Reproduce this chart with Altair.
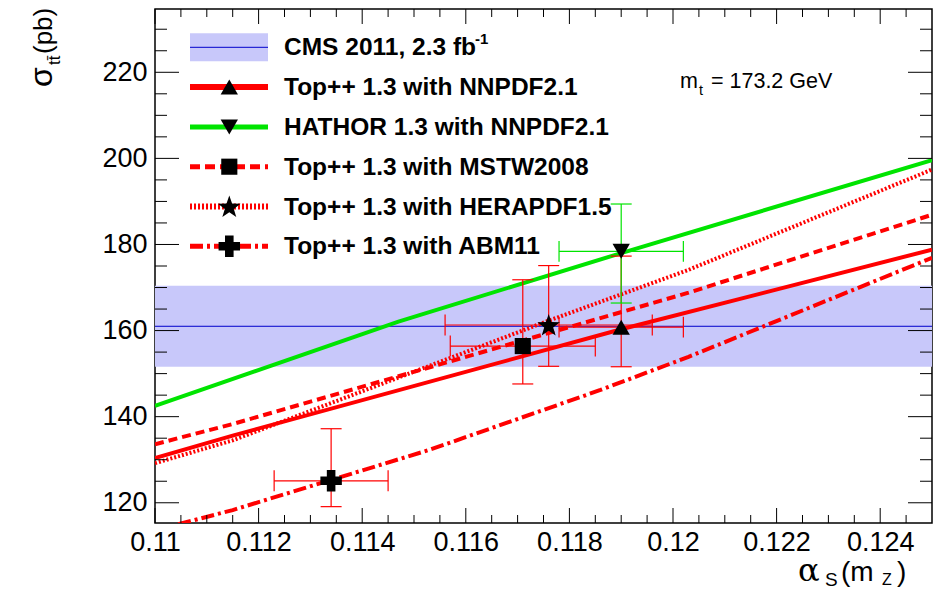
import math
import altair as alt
import pandas as pd

# ---------------- data ----------------
X_DOMAIN = [0.110, 0.125]
Y_DOMAIN = [115.3, 234.7]

x_major_ticks = [0.110, 0.112, 0.114, 0.116, 0.118, 0.120, 0.122, 0.124]
x_minor_ticks = [0.1105, 0.1110, 0.1115, 0.1125, 0.1130, 0.1135, 0.1145, 0.1150,
                 0.1155, 0.1165, 0.1170, 0.1175, 0.1185, 0.1190, 0.1195, 0.1205,
                 0.1210, 0.1215, 0.1225, 0.1230, 0.1235, 0.1245]
y_major_ticks = [120, 140, 160, 180, 200, 220]
y_minor_ticks = [125, 130, 135, 145, 150, 155, 165, 170, 175, 185, 190, 195,
                 205, 210, 215, 225, 230]

# CMS 2011 measurement band
cms_sigma = 161.0
cms_low = 151.6
cms_high = 170.4

# theory curves sigma(alpha_s)
nnpdf_alpha = [0.110, 0.1115, 0.1190, 0.125]
nnpdf_sigma = [130.4, 135.6, 160.3, 178.8]
hathor_alpha = [0.110, 0.1147, 0.1190, 0.125]
hathor_sigma = [142.5, 162.1, 178.0, 199.6]
mstw_alpha = [0.110, 0.1115, 0.1203, 0.125]
mstw_sigma = [133.6, 138.3, 168.8, 186.9]
hera_alpha = [0.110, 0.1115, 0.1176, 0.1203, 0.125]
hera_sigma = [129.2, 134.5, 162.3, 174.1, 197.4]
abm_alpha = [0.110, 0.1115, 0.1153, 0.1186, 0.1203, 0.125]
abm_sigma = [113.6, 118.3, 132.3, 146.2, 153.9, 176.9]

# points with errors
pt_names = ["NNPDF2.1", "HATHOR", "MSTW2008", "HERAPDF1.5", "ABM11"]
pt_alpha = [0.1190, 0.1190, 0.1171, 0.1176, 0.1134]
pt_alpha_err = [0.0012, 0.0012, 0.0014, 0.0020, 0.0011]
pt_sigma = [160.8, 178.4, 156.4, 161.3, 125.1]
pt_sigma_low = [151.6, 166.4, 147.6, 151.7, 119.1]
pt_sigma_high = [177.3, 189.4, 171.8, 175.1, 137.2]

legend_labels = ["CMS 2011, 2.3 fb", "Top++ 1.3 with NNPDF2.1", "HATHOR 1.3 with NNPDF2.1",
                 "Top++ 1.3 with MSTW2008", "Top++ 1.3 with HERAPDF1.5", "Top++ 1.3 with ABM11"]

# ---------------- styling ----------------
W, H = 777, 514
RED = "#ff0000"
GREEN = "#00e400"
BAND = "#c8c8fa"
BLUE = "#0000cc"
FONT = "Liberation Sans"

def star_path():
    pts = []
    for i in range(10):
        r = 1.0 if i % 2 == 0 else 0.40
        a = -math.pi / 2 + i * math.pi / 5
        pts.append((r * math.cos(a), r * math.sin(a) + 0.08))
    return "M" + " L".join(f"{x:.3f},{y:.3f}" for x, y in pts) + " Z"

STAR = star_path()

xs = alt.Scale(domain=X_DOMAIN, nice=False, zero=False)
ys = alt.Scale(domain=Y_DOMAIN, nice=False, zero=False)

one = pd.DataFrame({"d": [0]})

# band + CMS line
band = alt.Chart(pd.DataFrame({"lo": [cms_low], "hi": [cms_high]})).mark_rect(color=BAND).encode(
    x=alt.value(0), x2=alt.value(W),
    y=alt.Y("lo:Q", scale=ys, axis=alt.Axis(values=y_major_ticks, format="d", ticks=True, tickSize=0,
            domain=False, grid=False, labelFont=FONT, labelFontSize=27, labelColor="black",
            labelPadding=8, title=None)),
    y2="hi:Q")
cms_line = alt.Chart(pd.DataFrame({"s": [cms_sigma]})).mark_rule(color=BLUE, strokeWidth=1).encode(
    y=alt.Y("s:Q", scale=ys), x=alt.value(0), x2=alt.value(W))

def curve(a, s, color, dash=None, width=4):
    df = pd.DataFrame({"a": a, "s": s})
    kw = dict(color=color, strokeWidth=width, clip=True)
    if dash:
        kw["strokeDash"] = dash
    return alt.Chart(df).mark_line(**kw).encode(
        x=alt.X("a:Q", scale=xs, axis=alt.Axis(values=x_major_ticks, format=".3~f", ticks=True, tickSize=0,
                domain=False, grid=False, labelFont=FONT, labelFontSize=27, labelColor="black",
                labelPadding=6, labelFlush=False, labelOverlap=False, title=None)),
        y=alt.Y("s:Q", scale=ys))

c_nnpdf = curve(nnpdf_alpha, nnpdf_sigma, RED)
c_hathor = curve(hathor_alpha, hathor_sigma, GREEN)
c_mstw = curve(mstw_alpha, mstw_sigma, RED, [9, 5])
c_hera = curve(hera_alpha, hera_sigma, RED, [2, 2], 4)
c_abm = curve(abm_alpha, abm_sigma, RED, [13, 4, 3, 4])

pts = pd.DataFrame({"name": pt_names, "a": pt_alpha, "s": pt_sigma,
                    "alo": [a - e for a, e in zip(pt_alpha, pt_alpha_err)],
                    "ahi": [a + e for a, e in zip(pt_alpha, pt_alpha_err)],
                    "slo": pt_sigma_low, "shi": pt_sigma_high})
pts["col"] = ["r", "g", "r", "r", "r"]
col_scale = alt.Scale(domain=["r", "g"], range=[RED, GREEN])

vbar = alt.Chart(pts).mark_rule(strokeWidth=1.2).encode(
    x=alt.X("a:Q", scale=xs), y=alt.Y("slo:Q", scale=ys), y2="shi:Q",
    color=alt.Color("col:N", scale=col_scale, legend=None))
hbar = alt.Chart(pts).mark_rule(strokeWidth=1.2).encode(
    y=alt.Y("s:Q", scale=ys), x=alt.X("alo:Q", scale=xs), x2="ahi:Q",
    color=alt.Color("col:N", scale=col_scale, legend=None))

def caps(xf, yf, angle):
    return alt.Chart(pts).mark_point(shape="stroke", size=440, strokeWidth=1.2, filled=False,
                                     angle=angle, opacity=1).encode(
        x=alt.X(f"{xf}:Q", scale=xs), y=alt.Y(f"{yf}:Q", scale=ys),
        stroke=alt.Color("col:N", scale=col_scale, legend=None))

cap_layers = [caps("a", "slo", 0), caps("a", "shi", 0), caps("alo", "s", 90), caps("ahi", "s", 90)]

marker_shapes = ["triangle-up", "triangle-down", "square", STAR, "cross"]
marker_sizes = [300, 300, 260, 560, 460]

def marker(i):
    d = pts.iloc[[i]]
    m = alt.Chart(d).mark_point(shape=marker_shapes[i], size=marker_sizes[i], filled=True,
                                color="black", opacity=1)
    return m.encode(x=alt.X("a:Q", scale=xs), y=alt.Y("s:Q", scale=ys))

markers = [marker(i) for i in range(5)]

# ---------- ticks (inward, ROOT style) ----------
def yticks(vals, L):
    df = pd.DataFrame({"v": vals})
    left = alt.Chart(df).mark_rule(color="black", strokeWidth=1).encode(
        y=alt.Y("v:Q", scale=ys), x=alt.value(0), x2=alt.value(L))
    right = alt.Chart(df).mark_rule(color="black", strokeWidth=1).encode(
        y=alt.Y("v:Q", scale=ys), x=alt.value(W - L), x2=alt.value(W))
    return [left, right]

def xticks(vals, L):
    df = pd.DataFrame({"v": vals})
    bot = alt.Chart(df).mark_rule(color="black", strokeWidth=1).encode(
        x=alt.X("v:Q", scale=xs), y=alt.value(H - L), y2=alt.value(H))
    top = alt.Chart(df).mark_rule(color="black", strokeWidth=1).encode(
        x=alt.X("v:Q", scale=xs), y=alt.value(0), y2=alt.value(L))
    return [bot, top]

tick_layers = yticks(y_major_ticks, 24) + yticks(y_minor_ticks, 12) + \
    xticks(x_major_ticks, 15) + xticks(x_minor_ticks, 8)

# ---------- legend ----------
ROW_Y = [38.3 + 39.8 * i for i in range(6)]
SX0, SX1, SXC = 35, 113, 74.3
TX = 129

def txt(text, x, y, size, bold=False, font=FONT, angle=0, align="left", baseline="alphabetic"):
    kw = dict(text=text, font=font, fontSize=size, color="black", align=align, baseline=baseline)
    if bold:
        kw["fontWeight"] = "bold"
    if angle:
        kw["angle"] = angle
    return alt.Chart(one).mark_text(**kw).encode(x=alt.value(x), y=alt.value(y))

leg = []
leg.append(alt.Chart(one).mark_rect(color=BAND).encode(
    x=alt.value(SX0), x2=alt.value(SX1), y=alt.value(ROW_Y[0] - 14), y2=alt.value(ROW_Y[0] + 14)))
leg.append(alt.Chart(one).mark_rule(color=BLUE, strokeWidth=1).encode(
    x=alt.value(SX0), x2=alt.value(SX1), y=alt.value(ROW_Y[0])))
leg_styles = [(RED, None, 6), (GREEN, None, 5), (RED, [10, 5], 5), (RED, [2, 2], 6), (RED, [13, 4, 3, 4], 5)]
for i, (col, dash, wdt) in enumerate(leg_styles):
    kw = dict(color=col, strokeWidth=wdt)
    if dash:
        kw["strokeDash"] = dash
    leg.append(alt.Chart(one).mark_rule(**kw).encode(
        x=alt.value(SX0), x2=alt.value(SX1), y=alt.value(ROW_Y[i + 1])))
    leg.append(alt.Chart(one).mark_point(shape=marker_shapes[i], size=marker_sizes[i], filled=True,
                                         color="black", opacity=1).encode(
        x=alt.value(SXC), y=alt.value(ROW_Y[i + 1])))
for i, lab in enumerate(legend_labels):
    leg.append(txt(lab, TX, ROW_Y[i] + 8, 24.5, bold=True))
leg.append(txt("-1", 320, ROW_Y[0] - 3, 15, bold=True))

# m_t annotation
ann = [txt("m", 525, 79, 21.5), txt("t", 544, 86, 14.5), txt("= 173.2 GeV", 556, 79, 21.5)]

# axis titles
titles = [
    txt("α", 643, 572, 32, font="DejaVu Serif"),
    txt("S", 670, 577, 19),
    txt("(m", 686, 572, 28),
    txt("Z", 727, 576, 16),
    txt(")", 742, 572, 28),
    txt("σ", -103, 78, 32, angle=270),
    txt("tt\u0304", -95, 56, 17, angle=270),
    txt("(pb)", -103, 45, 26, angle=270),
]

chart = alt.layer(band, cms_line, c_abm, c_hera, c_mstw, c_nnpdf, c_hathor,
                  vbar, hbar, *cap_layers, *markers, *tick_layers, *leg, *ann, *titles).properties(
    width=W, height=H,
    autosize=alt.AutoSizeParams(type="none"),
    padding={"left": 147, "top": 1, "right": 3, "bottom": 66},
    background="white",
).configure_view(stroke="black", strokeWidth=1.5)

chart.save("out.html", embed_options={"renderer": "svg", "actions": False})
